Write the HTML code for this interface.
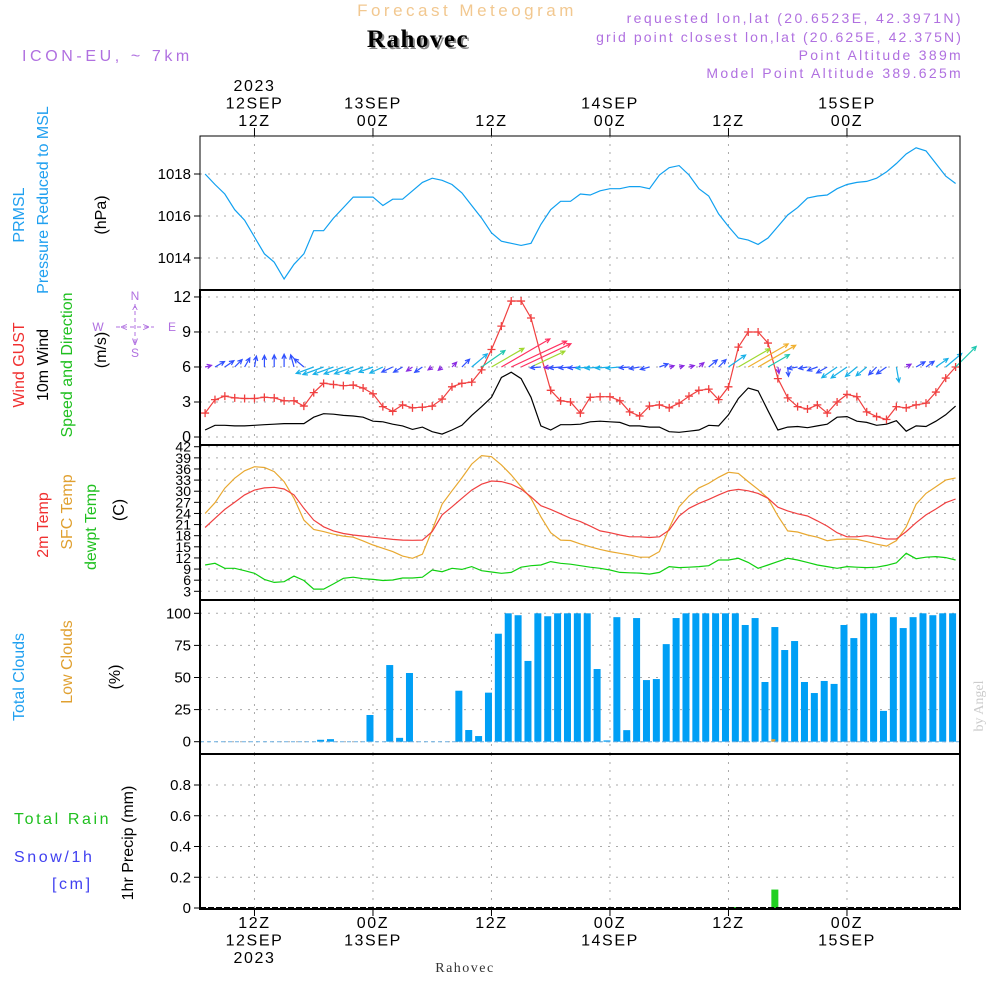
<!DOCTYPE html>
<html><head><meta charset="utf-8"><style>
html,body{margin:0;padding:0;background:#fff;}
svg{display:block;font-family:"Liberation Sans",sans-serif;}
</style></head><body>
<svg id="chart" width="1000" height="1000" viewBox="0 0 1000 1000" xmlns="http://www.w3.org/2000/svg">
<g id="header">
<text x="467" y="16" text-anchor="middle" font-size="17" fill="#f2c890" letter-spacing="3.5">Forecast Meteogram</text>
<text x="420" y="49" text-anchor="middle" font-size="25" font-weight="bold" font-family="Liberation Serif,serif" fill="#888" letter-spacing="1.5">Rahovec</text>
<text x="418" y="47" text-anchor="middle" font-size="25" font-weight="bold" font-family="Liberation Serif,serif" fill="#000" letter-spacing="1.5">Rahovec</text>
<text x="22" y="61" font-size="16" fill="#b070e0" letter-spacing="3.6">ICON-EU, ~ 7km</text>
<text x="963" y="23" text-anchor="end" font-size="14" fill="#b070e0" letter-spacing="2.4">requested lon,lat (20.6523E, 42.3971N)</text>
<text x="963" y="42" text-anchor="end" font-size="14" fill="#b070e0" letter-spacing="2.1">grid point closest lon,lat (20.625E, 42.375N)</text>
<text x="963" y="60" text-anchor="end" font-size="14" fill="#b070e0" letter-spacing="2.3">Point Altitude 389m</text>
<text x="963" y="78" text-anchor="end" font-size="14" fill="#b070e0" letter-spacing="2.3">Model Point Altitude 389.625m</text>
</g>
<g id="leftlabels" font-size="16">
<text transform="translate(24,215) rotate(-90)" text-anchor="middle" fill="#20a0f0">PRMSL</text>
<text transform="translate(48,200) rotate(-90)" text-anchor="middle" fill="#20a0f0">Pressure Reduced to MSL</text>
<text transform="translate(106,215) rotate(-90)" text-anchor="middle" fill="#000">(hPa)</text>
<text transform="translate(24,365) rotate(-90)" text-anchor="middle" fill="#f03030">Wind GUST</text>
<text transform="translate(48,365) rotate(-90)" text-anchor="middle" fill="#000">10m Wind</text>
<text transform="translate(72,365) rotate(-90)" text-anchor="middle" fill="#20c020">Speed and Direction</text>
<text transform="translate(106,350) rotate(-90)" text-anchor="middle" fill="#000">(m/s)</text>
<g fill="#b070e0" font-size="12" text-anchor="middle">
<text x="135" y="300">N</text><text x="135" y="357">S</text><text x="98" y="331">W</text><text x="172" y="331">E</text>
<text x="124" y="331">&lt;</text><text x="146" y="331">&gt;</text>
<line x1="116" y1="327" x2="154" y2="327" stroke="#b070e0" stroke-dasharray="4,3"/>
<line x1="135" y1="304" x2="135" y2="346" stroke="#b070e0" stroke-dasharray="4,3"/>
<text x="135" y="314">^</text><text x="135" y="345">v</text>
</g>
<text transform="translate(48,525) rotate(-90)" text-anchor="middle" fill="#f03030">2m Temp</text>
<text transform="translate(72,512) rotate(-90)" text-anchor="middle" fill="#e0a030">SFC Temp</text>
<text transform="translate(96,527) rotate(-90)" text-anchor="middle" fill="#20c020">dewpt Temp</text>
<text transform="translate(124,510) rotate(-90)" text-anchor="middle" fill="#000">(C)</text>
<text transform="translate(24,677) rotate(-90)" text-anchor="middle" fill="#20a0f0">Total Clouds</text>
<text transform="translate(72,662) rotate(-90)" text-anchor="middle" fill="#e0a030">Low Clouds</text>
<text transform="translate(120,677) rotate(-90)" text-anchor="middle" fill="#000">(%)</text>
<text x="14" y="824" fill="#20c020" letter-spacing="2.6">Total  Rain</text>
<text x="14" y="862" fill="#4040f0" letter-spacing="2.6">Snow/1h</text>
<text x="52" y="889" fill="#4040f0" letter-spacing="2.6">[cm]</text>
<text transform="translate(133,843) rotate(-90)" text-anchor="middle" fill="#000">1hr Precip (mm)</text>
<text transform="translate(983,706) rotate(-90)" text-anchor="middle" fill="#ccc" font-family="Liberation Serif,serif" font-size="14">by Angel</text>
<text x="465" y="972" text-anchor="middle" fill="#333" font-family="Liberation Serif,serif" font-size="14" letter-spacing="1.5">Rahovec</text>
</g>
<g id="grid"></g>
<g id="marks"></g>
<g id="frame"></g>
</svg>
<script>
// ---- data (hourly from 07Z 12SEP 2023) ----
const pressure = [1018.0,1017.5,1017.05,1016.3,1015.8,1015.0,1014.2,1013.8,1013.0,1013.7,1014.2,1015.3,1015.3,1015.9,1016.4,1016.9,1016.9,1016.9,1016.5,1016.8,1016.8,1017.2,1017.6,1017.8,1017.7,1017.5,1017.1,1016.5,1015.9,1015.2,1014.8,1014.7,1014.6,1014.7,1015.6,1016.3,1016.7,1016.7,1017.05,1017.0,1017.2,1017.3,1017.3,1017.4,1017.4,1017.3,1017.95,1018.3,1018.4,1017.95,1017.3,1016.95,1016.1,1015.5,1014.95,1014.85,1014.65,1014.95,1015.5,1016.05,1016.4,1016.85,1016.95,1017.0,1017.3,1017.5,1017.6,1017.65,1017.8,1018.1,1018.5,1018.95,1019.25,1019.1,1018.5,1017.9,1017.55];
const gust = [2.05,3.2,3.5,3.35,3.3,3.3,3.4,3.35,3.1,3.1,2.65,3.8,4.6,4.5,4.4,4.45,4.2,3.7,2.6,2.2,2.75,2.5,2.55,2.65,3.25,4.3,4.6,4.7,5.75,7.5,9.5,11.65,11.65,10.2,7.0,4.0,3.1,3.0,2.05,3.4,3.45,3.45,3.1,2.15,1.8,2.65,2.75,2.5,2.9,3.5,4.0,4.1,3.2,4.3,7.7,9.0,9.0,8.05,5.0,3.35,2.6,2.4,2.75,2.05,3.0,3.65,3.45,2.15,1.75,1.5,2.6,2.5,2.75,2.9,3.85,5.05,6.0];
const wind10m = [0.6,1.0,1.0,0.95,0.95,1.0,1.05,1.1,1.15,1.15,1.15,1.7,2.0,1.95,1.85,1.8,1.7,1.35,1.3,1.1,0.95,0.65,0.85,0.45,0.25,0.6,1.0,1.85,2.6,3.4,5.1,5.55,5.0,3.4,0.95,0.6,1.05,1.05,1.1,1.3,1.35,1.3,1.25,0.95,0.95,0.85,0.85,0.45,0.4,0.5,0.6,1.0,0.95,1.9,3.3,4.2,3.95,2.25,0.6,0.85,0.9,0.8,0.95,1.1,1.7,1.75,1.35,1.25,1.0,1.1,1.4,0.5,0.95,0.9,1.35,1.9,2.65];
const windDir = [15,30,35,45,60,80,90,90,90,105,140,200,200,200,200,200,200,200,205,205,210,215,215,215,220,45,45,40,35,30,30,25,25,25,185,185,185,185,185,185,185,185,185,185,190,195,20,15,15,15,40,40,45,35,30,30,30,30,280,275,190,190,200,210,215,215,220,220,225,215,280,30,30,35,35,40,45];
const temp2m = [20.2,22.7,25.1,27.0,29.0,30.3,30.9,31.05,30.6,29.0,25.4,22.2,20.4,19.3,18.6,18.2,17.9,17.6,17.3,17.0,16.8,16.75,16.8,19.1,23.6,25.8,28.1,30.3,31.9,32.75,32.6,31.9,30.6,28.5,26.1,25.1,23.9,22.7,21.8,20.6,19.3,18.8,18.2,17.7,17.7,17.5,17.7,19.5,23.3,25.4,26.7,27.8,29.0,30.1,30.5,30.1,29.4,28.1,25.7,24.7,23.9,23.3,22.0,20.6,18.8,17.7,17.7,18.0,17.6,17.1,17.1,19.1,21.5,23.6,25.2,26.9,27.9];
const tempSfc = [24.0,26.9,30.8,33.5,35.5,36.6,36.4,35.3,32.6,28.1,22.2,19.7,19.1,18.4,17.9,17.6,16.6,15.5,14.6,13.7,12.5,11.9,13.0,19.5,26.5,30.1,33.6,37.3,39.6,39.3,37.1,34.4,31.2,28.1,23.1,18.8,16.8,16.7,15.8,15.0,14.3,13.7,13.25,12.8,12.2,12.2,13.7,20.0,25.8,28.7,30.9,32.1,33.75,35.1,34.8,32.6,30.5,28.1,23.3,19.3,19.0,18.2,17.6,16.65,17.0,17.1,17.0,16.4,15.7,15.2,16.65,20.4,26.5,29.4,31.2,33.0,33.6];
const dewpt = [10.1,10.55,9.2,9.2,8.55,7.85,6.2,5.4,5.6,7.1,5.9,3.6,3.6,5.0,6.5,6.8,6.4,6.2,5.9,6.05,6.6,6.6,6.8,8.75,8.3,9.2,8.9,9.65,8.55,8.2,7.85,8.1,9.5,9.9,10.1,11.0,10.55,10.3,9.9,9.5,9.2,8.75,8.1,8.0,7.9,7.65,8.1,9.65,9.4,9.5,9.65,9.9,11.45,11.45,11.9,10.8,9.2,10.1,11.0,11.9,11.45,10.8,10.1,9.65,9.2,9.65,9.5,9.4,9.5,10.0,10.7,13.25,11.8,12.2,12.35,12.1,11.45];
const totalClouds = [0,0,0,0,0,0,0,0,0,0,0,0,1.5,2,0,0,0,20.8,0,59.7,3,53.5,0,0,0,0,39.7,9.1,4.4,38.2,84.1,100,98.5,62.9,100,97.7,100,100,100,100,56.6,1,97,9,96.3,48,48.8,76,96.3,100,100,100,100,100,100,90.9,96.3,46.5,89.3,71.4,78.4,46.5,37.9,47.3,45,90.9,80.7,100,100,24,97,88.5,97,100,98.5,100,100];
const lowClouds = [0,0,0,0,0,0,0,0,0,0,0,0,0,0,0,0,0,0,0,0,0,0,0,0,0,0,0,0,0,0,0,0,0,0,0,0,0,0,0,0,0,0,0,0,0,0,0,0,0,0,0,0,0,0,0,0,0,0,2,0,0,0,0,0,0,0,0,0,0,0,0,0,0,0,0,0,0];
const rain = [0,0,0,0,0,0,0,0,0,0,0,0,0,0,0,0,0,0,0,0,0,0,0,0,0,0,0,0,0,0,0,0,0,0,0,0,0,0,0,0,0,0,0,0,0,0,0,0,0,0,0,0,0,0,0.005,0,0,0,0.12,0,0,0,0,0,0,0,0,0,0,0,0,0,0,0,0,0,0];
const pressureTicks = [1014,1016,1018];
const windTicks = [0,3,6,9,12];
const tempTicks = [3,6,9,12,15,18,21,24,27,30,33,36,39,42];
const cloudTicks = [0,25,50,75,100];
const precipTicks = [0,0.2,0.4,0.6,0.8];
const timeHours = [5,17,29,41,53,65];
const timeTopLabels = [["2023","12SEP","12Z"],["","13SEP","00Z"],["","","12Z"],["","14SEP","00Z"],["","","12Z"],["","15SEP","00Z"]];
const timeBottomLabels = [["12Z","12SEP","2023"],["00Z","13SEP",""],["12Z","",""],["00Z","14SEP",""],["12Z","",""],["00Z","15SEP",""]];

// ---- scales ----
const L=200,R=960;
const xS = h => 205.1 + 9.875*h;
const yP = v => 174 - (v-1018)*21;
const yW = v => 437 - v*11.67;
const yT = v => 591.3 - (v-3)*3.707;
const yC = v => 741.7 - v*1.284;
const yR = v => 908 - v*153.75;
const NS="http://www.w3.org/2000/svg";
function mk(parent,tag,attrs){const e=document.createElementNS(NS,tag);for(const k in attrs)e.setAttribute(k,attrs[k]);parent.appendChild(e);return e;}
const grid=document.getElementById('grid'), marks=document.getElementById('marks'), frame=document.getElementById('frame');
const panels=[[136,290],[290,445],[445,600],[600,754],[754,909]];

timeHours.forEach((h,i)=>{
  panels.forEach(p=>{
    const ln=mk(grid,'line',{x1:xS(h),x2:xS(h),y1:p[0],y2:p[1],stroke:'#aaa','stroke-dasharray':'2,6'});
    
    
  });
  const tk=mk(frame,'line',{x1:xS(h),x2:xS(h),y1:128,y2:136,stroke:'#000'});
  
  
  const tb=mk(frame,'line',{x1:xS(h),x2:xS(h),y1:909,y2:916,stroke:'#000'});
  
  
  timeTopLabels[i].forEach((s,j)=>{ if(!s)return;
    const t=mk(frame,'text',{x:xS(h),y:91+j*17.5,'text-anchor':'middle','font-size':16,fill:'#000','letter-spacing':'1.6'});
    t.textContent=s;
    
    
  });
  timeBottomLabels[i].forEach((s,j)=>{ if(!s)return;
    const t=mk(frame,'text',{x:xS(h),y:928+j*17.5,'text-anchor':'middle','font-size':16,fill:'#000','letter-spacing':'1.6'});
    t.textContent=s;
    
    
  });
});

function yAxis(ticks,scale,fmt,fs,name){
  ticks.forEach(v=>{
    const y=scale(v);
    const g=mk(grid,'line',{x1:L,x2:R,y1:y,y2:y,stroke:'#aaa','stroke-dasharray':'2,6'});
    
    
    const tk=mk(frame,'line',{x1:L-6,x2:L,y1:y,y2:y,stroke:'#000'});
    
    
    const t=mk(frame,'text',{x:L-9,y:y+5,'text-anchor':'end','font-size':fs,fill:'#000'});
    t.textContent=fmt(v);
    
    
  });
}
yAxis(pressureTicks,yP,v=>v,15,'pressure');
yAxis(windTicks,yW,v=>v,16,'wind');
yAxis(tempTicks,yT,v=>v,14,'temp');
yAxis(cloudTicks,yC,v=>v,15,'cloud');
yAxis(precipTicks,yR,v=>v===0?'0':v.toFixed(1),15,'precip');

function line(arr,scale,color,name,w){
  const d=arr.map((v,i)=>(i?'L':'M')+xS(i).toFixed(1)+','+scale(v).toFixed(1)).join('');
  const p=mk(marks,'path',{d:d,fill:'none',stroke:color,'stroke-width':w||1.2});
  
  
}
totalClouds.forEach((v,i)=>{
  if(v<=0)return;
  const r=mk(marks,'rect',{x:xS(i)-6.5,y:yC(v),width:7,height:yC(0)-yC(v),fill:'#009ff5'});
  
  
});
lowClouds.forEach((v,i)=>{
  if(v<=0)return;
  const r=mk(marks,'rect',{x:xS(i)-6.5,y:yC(v),width:4,height:yC(0)-yC(v),fill:'#e0a030'});
  
  
});
const base=mk(marks,'line',{x1:L,x2:R,y1:yC(0),y2:yC(0),stroke:'#6aaee0','stroke-dasharray':'4,3'});


rain.forEach((v,i)=>{
  if(v<=0)return;
  const h=Math.max(1,yR(0)-yR(v));
  const r=mk(marks,'rect',{x:xS(i)-6.5,y:yR(0)-h,width:7,height:h,fill:'#20d020'});
  
  
});
line(pressure,yP,'#10a0f0','pressure-line');
line(wind10m,yW,'#000','wind-10m-line');
line(gust,yW,'#f04040','wind-gust-line');
gust.forEach((v,i)=>{
  if(i===34)return;
  const x=xS(i),y=yW(v);
  const c=mk(marks,'path',{d:`M${x-4},${y}H${x+4}M${x},${y-4}V${y+4}`,stroke:'#f04040','stroke-width':1.3});
  
  
});
line(tempSfc,yT,'#e8a830','sfc-temp-line');
line(temp2m,yT,'#f04040','temp-2m-line');
line(dewpt,yT,'#10d010','dewpoint-line');
function wcol(s){ if(s<0.8)return '#8a2be2'; if(s<1.25)return '#3050ff'; if(s<2.2)return '#18b0e8'; if(s<3.0)return '#20c8b0'; if(s<3.8)return '#a0d830'; if(s<4.6)return '#f0b030'; return '#ff3060'; }
windDir.forEach((d,i)=>{
  const s=wind10m[i], len=Math.max(5,s*11), a=d*Math.PI/180;
  const x0=xS(i), y0=yW(6);
  const x1=x0+len*Math.cos(a), y1=y0-len*Math.sin(a);
  const h1=a+Math.PI-0.45, h2=a+Math.PI+0.45, hl=5;
  const col=wcol(s);
  const p=mk(marks,'path',{d:`M${x0.toFixed(1)},${y0.toFixed(1)}L${x1.toFixed(1)},${y1.toFixed(1)}M${(x1+hl*Math.cos(h1)).toFixed(1)},${(y1-hl*Math.sin(h1)).toFixed(1)}L${x1.toFixed(1)},${y1.toFixed(1)}L${(x1+hl*Math.cos(h2)).toFixed(1)},${(y1-hl*Math.sin(h2)).toFixed(1)}`,fill:'none',stroke:col,'stroke-width':1.2});
  
  
});
panels.forEach((p,k)=>{
  const r=mk(frame,'rect',{x:L,y:p[0],width:R-L,height:p[1]-p[0],fill:'none',stroke:'#000','stroke-width':k===0?1:2});
  
  
});
const ax=mk(frame,'line',{x1:L,x2:R,y1:908,y2:908,stroke:'#000','stroke-width':2,'stroke-dasharray':'6,2'});


</script>
</body></html>
